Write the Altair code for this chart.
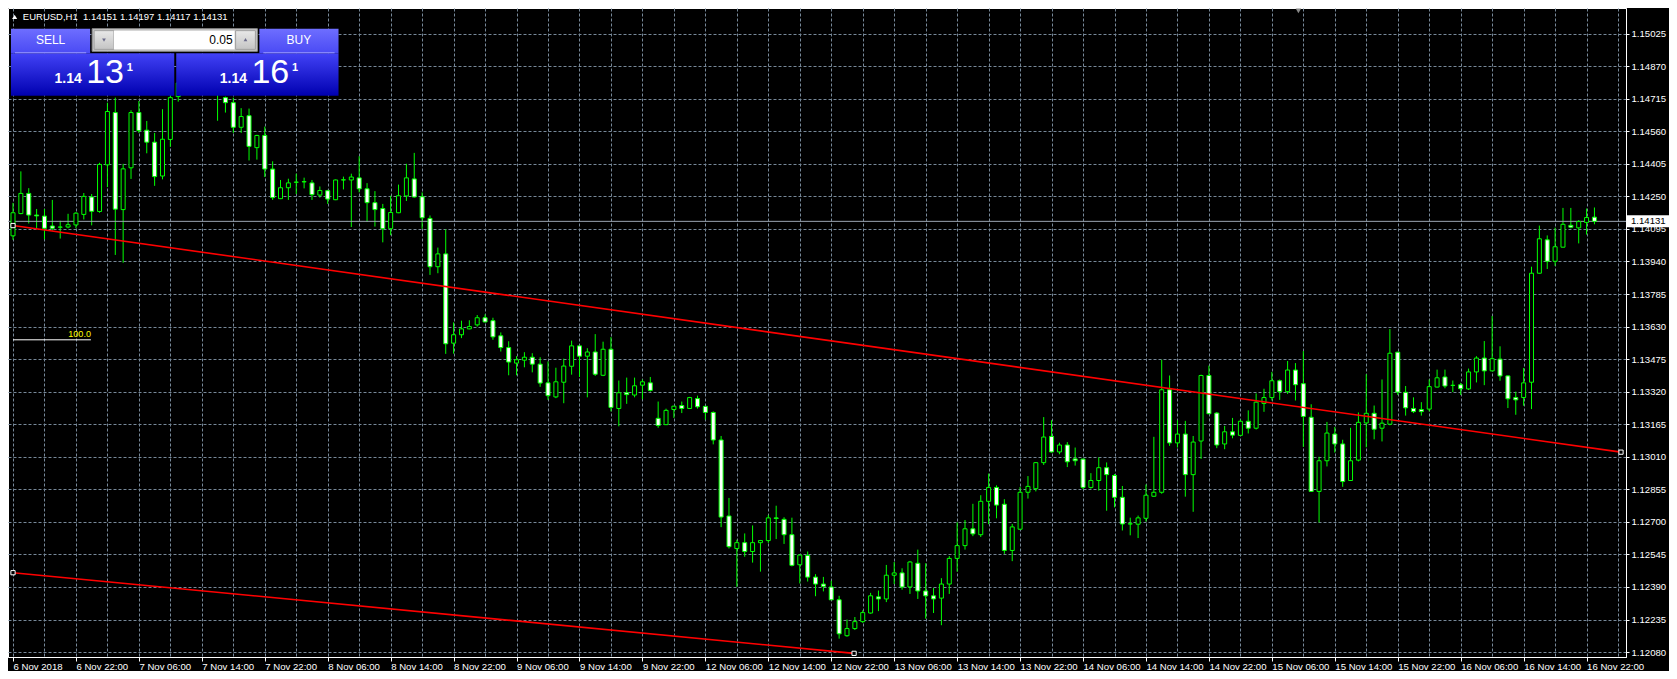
import altair as alt
import pandas as pd

# ---------------- data ----------------
SYMBOL_LINE = "EURUSD,H1\u00a0\u00a01.14151 1.14197 1.14117 1.14131"

TIME_LABELS = ["6 Nov 2018", "6 Nov 22:00", "7 Nov 06:00", "7 Nov 14:00", "7 Nov 22:00",
               "8 Nov 06:00", "8 Nov 14:00", "8 Nov 22:00", "9 Nov 06:00", "9 Nov 14:00",
               "9 Nov 22:00", "12 Nov 06:00", "12 Nov 14:00", "12 Nov 22:00", "13 Nov 06:00",
               "13 Nov 14:00", "13 Nov 22:00", "14 Nov 06:00", "14 Nov 14:00", "14 Nov 22:00",
               "15 Nov 06:00", "15 Nov 14:00", "15 Nov 22:00", "16 Nov 06:00", "16 Nov 14:00",
               "16 Nov 22:00"]

PRICE_TICKS = [1.12080, 1.12235, 1.12390, 1.12545, 1.12700, 1.12855, 1.13010, 1.13165,
               1.13320, 1.13475, 1.13630, 1.13785, 1.13940, 1.14095, 1.14250, 1.14405,
               1.14560, 1.14715, 1.14870, 1.15025]

OPEN = [1.14062, 1.14168, 1.14264, 1.14161, 1.14156, 1.14109, 1.14103, 1.14104, 1.14114, 1.14164,
        1.14247, 1.14178, 1.14400, 1.14649, 1.14187, 1.14386, 1.14649, 1.14565, 1.14508, 1.14347,
        1.14521, 1.14725, 1.14790, 1.14820, 1.14800, 1.14780, 1.14800, 1.14720, 1.14696, 1.14579,
        1.14634, 1.14482, 1.14540, 1.14380, 1.14239, 1.14291, 1.14317, 1.14320, 1.14314, 1.14256,
        1.14277, 1.14234, 1.14328, 1.14328, 1.14338, 1.14286, 1.14220, 1.14192, 1.14096, 1.14172,
        1.14252, 1.14333, 1.14248, 1.14145, 1.13915, 1.13976, 1.13551, 1.13591, 1.13619, 1.13638,
        1.13672, 1.13658, 1.13586, 1.13530, 1.13456, 1.13470, 1.13484, 1.13451, 1.13362, 1.13295,
        1.13365, 1.13441, 1.13538, 1.13489, 1.13509, 1.13398, 1.13522, 1.13240, 1.13315, 1.13304,
        1.13351, 1.13362, 1.13193, 1.13163, 1.13235, 1.13254, 1.13240, 1.13287, 1.13250, 1.13221,
        1.13090, 1.12728, 1.12573, 1.12601, 1.12559, 1.12601, 1.12611, 1.12719, 1.12712, 1.12639,
        1.12496, 1.12540, 1.12437, 1.12404, 1.12390, 1.12329, 1.12158, 1.12192, 1.12225, 1.12266,
        1.12343, 1.12333, 1.12446, 1.12457, 1.12390, 1.12503, 1.12371, 1.12348, 1.12337, 1.12404,
        1.12526, 1.12587, 1.12667, 1.12639, 1.12798, 1.12864, 1.12784, 1.12564, 1.12665, 1.12841,
        1.12858, 1.12982, 1.13107, 1.13033, 1.13066, 1.13000, 1.12999, 1.12864, 1.12897, 1.12958,
        1.12921, 1.12817, 1.12690, 1.12689, 1.12717, 1.12822, 1.12841, 1.13329, 1.13076, 1.13118,
        1.12925, 1.13085, 1.13397, 1.13218, 1.13071, 1.13129, 1.13112, 1.13179, 1.13146, 1.13264,
        1.13292, 1.13372, 1.13320, 1.13423, 1.13358, 1.13198, 1.12845, 1.12991, 1.13118, 1.13071,
        1.12897, 1.12994, 1.13171, 1.13217, 1.13146, 1.13165, 1.13508, 1.13317, 1.13240, 1.13235,
        1.13237, 1.13342, 1.13390, 1.13350, 1.13353, 1.13333, 1.13414, 1.13480, 1.13419, 1.13475,
        1.13395, 1.13292, 1.13292, 1.13365, 1.13884, 1.14043, 1.13941, 1.14008, 1.14112, 1.14100,
        1.14126, 1.14151]

HIGH = [1.14219, 1.14369, 1.14289, 1.14190, 1.14190, 1.14233, 1.14134, 1.14167, 1.14175, 1.14266,
        1.14261, 1.14410, 1.14696, 1.14720, 1.14405, 1.14660, 1.14704, 1.14609, 1.14552, 1.14665,
        1.14800, 1.14830, 1.14860, 1.14880, 1.14850, 1.14820, 1.14830, 1.14725, 1.14720, 1.14670,
        1.14668, 1.14543, 1.14582, 1.14417, 1.14328, 1.14334, 1.14358, 1.14339, 1.14328, 1.14297,
        1.14281, 1.14330, 1.14344, 1.14358, 1.14441, 1.14313, 1.14275, 1.14214, 1.14253, 1.14306,
        1.14405, 1.14457, 1.14269, 1.14159, 1.14006, 1.14093, 1.13650, 1.13658, 1.13660, 1.13685,
        1.13688, 1.13672, 1.13602, 1.13560, 1.13489, 1.13508, 1.13503, 1.13484, 1.13464, 1.13434,
        1.13477, 1.13563, 1.13540, 1.13527, 1.13594, 1.13558, 1.13580, 1.13373, 1.13387, 1.13387,
        1.13378, 1.13390, 1.13273, 1.13239, 1.13252, 1.13273, 1.13295, 1.13301, 1.13252, 1.13226,
        1.13109, 1.12814, 1.12615, 1.12645, 1.12683, 1.12614, 1.12733, 1.12777, 1.12722, 1.12720,
        1.12545, 1.12559, 1.12451, 1.12438, 1.12420, 1.12348, 1.12235, 1.12247, 1.12279, 1.12362,
        1.12373, 1.12495, 1.12509, 1.12479, 1.12514, 1.12568, 1.12503, 1.12385, 1.12432, 1.12537,
        1.12698, 1.12709, 1.12786, 1.12827, 1.12930, 1.12874, 1.12808, 1.12690, 1.12866, 1.12918,
        1.12985, 1.13199, 1.13184, 1.13077, 1.13080, 1.13054, 1.13001, 1.12932, 1.13007, 1.12983,
        1.12928, 1.12871, 1.12720, 1.12730, 1.12878, 1.13105, 1.13472, 1.13397, 1.13184, 1.13181,
        1.13109, 1.13401, 1.13444, 1.13223, 1.13157, 1.13195, 1.13187, 1.13231, 1.13312, 1.13334,
        1.13414, 1.13378, 1.13466, 1.13456, 1.13513, 1.13260, 1.13010, 1.13176, 1.13152, 1.13091,
        1.13148, 1.13221, 1.13403, 1.13254, 1.13378, 1.13618, 1.13510, 1.13347, 1.13293, 1.13270,
        1.13378, 1.13425, 1.13425, 1.13373, 1.13362, 1.13430, 1.13489, 1.13561, 1.13680, 1.13536,
        1.13397, 1.13320, 1.13433, 1.13915, 1.14111, 1.14064, 1.14101, 1.14195, 1.14195, 1.14137,
        1.14192, 1.14197]

LOW = [1.14043, 1.14165, 1.14121, 1.14098, 1.14046, 1.14087, 1.14049, 1.14098, 1.14098, 1.14140,
       1.14112, 1.14172, 1.14294, 1.13971, 1.13934, 1.14333, 1.14552, 1.14455, 1.14300, 1.14331,
       1.14486, 1.14701, 1.14760, 1.14780, 1.14760, 1.14755, 1.14610, 1.14649, 1.14552, 1.14552,
       1.14421, 1.14425, 1.14342, 1.14233, 1.14237, 1.14233, 1.14261, 1.14288, 1.14233, 1.14244,
       1.14214, 1.14232, 1.14283, 1.14104, 1.14269, 1.14129, 1.14106, 1.14031, 1.14065, 1.14170,
       1.14228, 1.14244, 1.14096, 1.13876, 1.13884, 1.13500, 1.13501, 1.13575, 1.13617, 1.13630,
       1.13650, 1.13567, 1.13511, 1.13398, 1.13398, 1.13436, 1.13412, 1.13343, 1.13281, 1.13289,
       1.13265, 1.13401, 1.13390, 1.13293, 1.13395, 1.13394, 1.13226, 1.13155, 1.13262, 1.13293,
       1.13284, 1.13320, 1.13148, 1.13161, 1.13195, 1.13218, 1.13238, 1.13239, 1.13187, 1.13069,
       1.12675, 1.12573, 1.12391, 1.12534, 1.12506, 1.12463, 1.12600, 1.12618, 1.12595, 1.12488,
       1.12407, 1.12416, 1.12346, 1.12369, 1.12329, 1.12144, 1.12153, 1.12185, 1.12219, 1.12263,
       1.12275, 1.12318, 1.12404, 1.12377, 1.12357, 1.12333, 1.12239, 1.12266, 1.12208, 1.12357,
       1.12463, 1.12568, 1.12632, 1.12628, 1.12689, 1.12717, 1.12548, 1.12513, 1.12661, 1.12811,
       1.12845, 1.12971, 1.13030, 1.13022, 1.12961, 1.12968, 1.12855, 1.12858, 1.12849, 1.12753,
       1.12769, 1.12659, 1.12636, 1.12623, 1.12701, 1.12820, 1.12834, 1.13062, 1.13054, 1.12820,
       1.12748, 1.13000, 1.13215, 1.13051, 1.13046, 1.13098, 1.13109, 1.13121, 1.13140, 1.13224,
       1.13278, 1.13281, 1.13309, 1.13278, 1.13057, 1.12843, 1.12697, 1.12964, 1.13030, 1.12867,
       1.12895, 1.12988, 1.13055, 1.13093, 1.13083, 1.13160, 1.13304, 1.13206, 1.13218, 1.13206,
       1.13226, 1.13340, 1.13336, 1.13318, 1.13304, 1.13328, 1.13364, 1.13351, 1.13417, 1.13372,
       1.13242, 1.13210, 1.13253, 1.13237, 1.13882, 1.13904, 1.13919, 1.14007, 1.14098, 1.14026,
       1.14068, 1.14117]

CLOSE = [1.14172, 1.14264, 1.14161, 1.14157, 1.14098, 1.14098, 1.14104, 1.14115, 1.14170, 1.14250,
         1.14179, 1.14402, 1.14654, 1.14189, 1.14381, 1.14649, 1.14563, 1.14508, 1.14344, 1.14522,
         1.14720, 1.14790, 1.14820, 1.14800, 1.14780, 1.14800, 1.14755, 1.14696, 1.14579, 1.14630,
         1.14488, 1.14540, 1.14380, 1.14244, 1.14291, 1.14314, 1.14318, 1.14319, 1.14258, 1.14278,
         1.14237, 1.14328, 1.14329, 1.14342, 1.14286, 1.14220, 1.14187, 1.14096, 1.14173, 1.14253,
         1.14338, 1.14247, 1.14148, 1.13915, 1.13976, 1.13548, 1.13591, 1.13619, 1.13630, 1.13672,
         1.13652, 1.13581, 1.13530, 1.13461, 1.13472, 1.13484, 1.13451, 1.13361, 1.13301, 1.13367,
         1.13442, 1.13538, 1.13489, 1.13509, 1.13403, 1.13522, 1.13245, 1.13315, 1.13306, 1.13348,
         1.13367, 1.13326, 1.13159, 1.13231, 1.13251, 1.13240, 1.13292, 1.13248, 1.13221, 1.13090,
         1.12723, 1.12582, 1.12601, 1.12559, 1.12601, 1.12611, 1.12719, 1.12716, 1.12639, 1.12493,
         1.12542, 1.12437, 1.12404, 1.12393, 1.12329, 1.12167, 1.12192, 1.12225, 1.12268, 1.12348,
         1.12333, 1.12446, 1.12457, 1.12390, 1.12509, 1.12371, 1.12348, 1.12333, 1.12404, 1.12526,
         1.12587, 1.12667, 1.12643, 1.12798, 1.12864, 1.12780, 1.12564, 1.12676, 1.12841, 1.12869,
         1.12982, 1.13104, 1.13033, 1.13066, 1.12986, 1.12991, 1.12864, 1.12897, 1.12958, 1.12925,
         1.12817, 1.12690, 1.12691, 1.12719, 1.12827, 1.12841, 1.13329, 1.13076, 1.13118, 1.12925,
         1.13080, 1.13397, 1.13215, 1.13066, 1.13129, 1.13113, 1.13179, 1.13146, 1.13270, 1.13292,
         1.13372, 1.13320, 1.13423, 1.13353, 1.13202, 1.12845, 1.12991, 1.13123, 1.13071, 1.12892,
         1.12991, 1.13174, 1.13217, 1.13141, 1.13170, 1.13503, 1.13318, 1.13243, 1.13225, 1.13225,
         1.13344, 1.13386, 1.13347, 1.13350, 1.13334, 1.13414, 1.13480, 1.13419, 1.13477, 1.13395,
         1.13286, 1.13281, 1.13362, 1.13884, 1.14048, 1.13941, 1.14010, 1.14117, 1.14103, 1.14130,
         1.14149, 1.14131]

BID = 1.14131
UPPER_LINE_BARS = [0, 204.375]
UPPER_LINE_PRICES = [1.14111, 1.13032]
LOWER_LINE_BARS = [0, 106.9]
LOWER_LINE_PRICES = [1.12458, 1.12074]
FIB_BARS = [0, 9.9]
FIB_PRICE = 1.13567
FIB_LABEL = "100.0"

LOT = "0.05"
SELL_BIG = ["1.14", "13", "1"]
BUY_BIG = ["1.14", "16", "1"]

# ---------------- layout / style ----------------
W, H = 1618, 649
PAD_RIGHT = 1661 - W
KX, KY = W / 1635.0, H / 659.0
FONT = "Liberation Sans"
LIME = "#00ff00"
GRID = "#778899"
X_DOMAIN = [0, 204.375]
Y_DOMAIN = [1.120566, 1.151469]


def px(rx):
    return round((rx - 3) * KX, 2)


def py(ry):
    return round((ry - 3) * KY, 2)


XS = alt.Scale(domain=X_DOMAIN, nice=False, zero=False)
YS = alt.Scale(domain=Y_DOMAIN, nice=False, zero=False)

df = pd.DataFrame({"i": list(range(len(OPEN))), "open": OPEN, "high": HIGH,
                   "low": LOW, "close": CLOSE})
df["dir"] = ["up" if c >= o else "down" for o, c in zip(OPEN, CLOSE)]

label_js = "[" + ",".join("'%s'" % t for t in TIME_LABELS) + "]"

x_axis = alt.Axis(
    values=list(range(0, 205, 4)), grid=True, gridColor=GRID, gridDash=[3, 2], gridWidth=1,
    labelExpr="datum.value % 8 === 0 ? " + label_js + "[datum.value / 8] : ''",
    labelAlign="left", labelBaseline="top", labelColor="#ffffff", labelFont=FONT,
    labelFontSize=9.6, labelPadding=0, labelOverlap=False, labelFlush=False, labelBound=False,
    tickColor={"condition": {"test": "datum.value % 8 === 0", "value": "#ffffff"},
               "value": "transparent"},
    tickSize=4, domainColor="#ffffff", title=None, zindex=0)

y_axis = alt.Axis(
    orient="right", values=PRICE_TICKS, format=".5f", grid=True, gridColor=GRID,
    gridDash=[3, 2], gridWidth=1, labelColor="#ffffff", labelFont=FONT, labelFontSize=9.6,
    labelPadding=2, labelOverlap=False, labelBaseline="middle", tickSize=3,
    tickColor="#ffffff", domainColor="#ffffff", title=None, zindex=0)

ONE = pd.DataFrame({"k": [0]})

layers = []

# wicks (carry the axes)
layers.append(alt.Chart(df).mark_rule(color=LIME, strokeWidth=1, clip=True).encode(
    x=alt.X("i:Q", scale=XS, axis=x_axis, title=None),
    y=alt.Y("low:Q", scale=YS, axis=y_axis, title=None),
    y2="high:Q"))

# bid line
bid_df = pd.DataFrame({"p": [BID]})
layers.append(alt.Chart(bid_df).mark_rule(color="#9aa5b1", strokeWidth=1).encode(
    y=alt.Y("p:Q", scale=YS, axis=y_axis, title=None)))

# bodies
layers.append(alt.Chart(df).mark_bar(size=4, stroke=LIME, strokeWidth=1, clip=True).encode(
    x=alt.X("i:Q", scale=XS, axis=x_axis, title=None),
    y=alt.Y("open:Q", scale=YS, axis=y_axis, title=None),
    y2="close:Q",
    fill=alt.Fill("dir:N", scale=alt.Scale(domain=["up", "down"],
                                           range=["#000000", "#ffffff"]), legend=None)))

# trend lines
tl = pd.DataFrame({
    "i": UPPER_LINE_BARS + LOWER_LINE_BARS,
    "p": UPPER_LINE_PRICES + LOWER_LINE_PRICES,
    "line": ["upper", "upper", "lower", "lower"]})
layers.append(alt.Chart(tl).mark_line(color="#ff0000", strokeWidth=1.6, clip=True).encode(
    x=alt.X("i:Q", scale=XS, axis=x_axis, title=None),
    y=alt.Y("p:Q", scale=YS, axis=y_axis, title=None),
    detail="line:N"))
layers.append(alt.Chart(tl).mark_point(shape="square", size=18, filled=True, fill="#000000",
                                       stroke="#ffffff", strokeWidth=1, opacity=1).encode(
    x=alt.X("i:Q", scale=XS, axis=x_axis, title=None),
    y=alt.Y("p:Q", scale=YS, axis=y_axis, title=None)))

# fibonacci 100.0 level
fib = pd.DataFrame({"i": [FIB_BARS[0]], "i2": [FIB_BARS[1]], "p": [FIB_PRICE],
                    "label": [FIB_LABEL]})
layers.append(alt.Chart(fib).mark_rule(color="#ffffff", strokeWidth=1).encode(
    x=alt.X("i:Q", scale=XS, axis=x_axis, title=None), x2="i2:Q",
    y=alt.Y("p:Q", scale=YS, axis=y_axis, title=None)))
layers.append(alt.Chart(fib).mark_text(color="#ffff00", align="right", baseline="bottom",
                                       dy=-1, fontSize=9, font=FONT).encode(
    x=alt.X("i2:Q", scale=XS, axis=x_axis, title=None),
    y=alt.Y("p:Q", scale=YS, axis=y_axis, title=None),
    text="label:N"))

# bid price box on the price axis
layers.append(alt.Chart(bid_df).mark_rect(fill="#ffffff", yOffset=-6, y2Offset=6).encode(
    x=alt.value(W + 1), x2=alt.value(W + PAD_RIGHT),
    y=alt.Y("p:Q", scale=YS, axis=y_axis, title=None), y2="p:Q"))
layers.append(alt.Chart(bid_df).mark_text(color="#000000", align="left", baseline="middle",
                                          fontSize=9.6, font=FONT).encode(
    x=alt.value(W + 5), y=alt.Y("p:Q", scale=YS, axis=y_axis, title=None),
    text=alt.Text("p:Q", format=".5f")))


# ---------------- panel helpers ----------------
def grad(top, bottom):
    return alt.Gradient(gradient="linear",
                        stops=[alt.GradientStop(color=top, offset=0),
                               alt.GradientStop(color=bottom, offset=1)],
                        x1=0, x2=0, y1=0, y2=1)


def rect(x1, y1, x2, y2, fill, stroke=None):
    kw = {"fill": fill}
    if stroke:
        kw.update(stroke=stroke, strokeWidth=1)
    return alt.Chart(ONE).mark_rect(**kw).encode(
        x=alt.value(px(x1)), x2=alt.value(px(x2)), y=alt.value(py(y1)), y2=alt.value(py(y2)))


def txt(s, rx, ry, size, color="#ffffff", align="left", weight="normal"):
    return alt.Chart(ONE).mark_text(align=align, baseline="alphabetic", fontSize=size,
                                    fontWeight=weight, color=color, font=FONT).encode(
        x=alt.value(px(rx)), y=alt.value(py(ry)), text=alt.value(s))


def sym(shape, rx, ry, size, color):
    return alt.Chart(ONE).mark_point(shape=shape, filled=True, size=size, color=color,
                                     opacity=1).encode(x=alt.value(px(rx)), y=alt.value(py(ry)))


# header line
layers.append(sym("triangle-up", 9.7, 12, 26, "#ffffff"))
layers.append(txt(SYMBOL_LINE, 18, 15, 9.5))
# chart shift marker
layers.append(sym("triangle-down", 1307, 6, 30, "#8a8a8a"))

# one-click trading panel
HEAD = grad("#6e6eff", "#4a4af4")
PRICE = grad("#4242f6", "#0000b0")
layers.append(rect(6, 24, 86, 49, HEAD))
layers.append(rect(257, 24, 337, 49, HEAD))
layers.append(rect(6, 49, 171, 92, PRICE))
layers.append(rect(173, 49, 337, 92, PRICE))
layers.append(rect(10, 48, 82, 49, "#9a9aff"))
layers.append(rect(261, 48, 333, 49, "#9a9aff"))
layers.append(rect(88, 24, 255, 47, "#c8c8c8", "#8a8a8a"))
layers.append(rect(90, 26, 110, 45, grad("#e8e8e8", "#c4c4c4"), "#a0a0a0"))
layers.append(rect(110, 26, 232, 45, "#ffffff"))
layers.append(rect(233, 26, 253, 45, grad("#e8e8e8", "#c4c4c4"), "#a0a0a0"))
layers.append(sym("triangle-down", 100, 35.5, 14, "#6a6a8a"))
layers.append(sym("triangle-up", 243, 35, 14, "#6a6a8a"))
layers.append(txt("SELL", 46, 40, 12, align="center"))
layers.append(txt("BUY", 297, 40, 12, align="center"))
layers.append(txt(LOT, 230, 39.5, 12, color="#000000", align="right"))
layers.append(txt(SELL_BIG[0], 50, 79, 14, weight="bold"))
layers.append(txt(SELL_BIG[1], 82, 79, 34))
layers.append(txt(SELL_BIG[2], 123, 67, 11, weight="bold"))
layers.append(txt(BUY_BIG[0], 217, 79, 14, weight="bold"))
layers.append(txt(BUY_BIG[1], 249, 79, 34))
layers.append(txt(BUY_BIG[2], 290, 67, 11, weight="bold"))

chart = alt.layer(*layers).properties(
    width=W, height=H,
    autosize=alt.AutoSizeParams(type="none"),
    padding={"left": 0, "top": 0, "right": PAD_RIGHT, "bottom": 14},
).configure(background="#000000").configure_axis(
    labelOverlap=False
).configure_view(
    stroke="#ffffff", strokeWidth=1, fill="#000000")

chart.save("out.html", embed_options={"renderer": "svg", "actions": False})
